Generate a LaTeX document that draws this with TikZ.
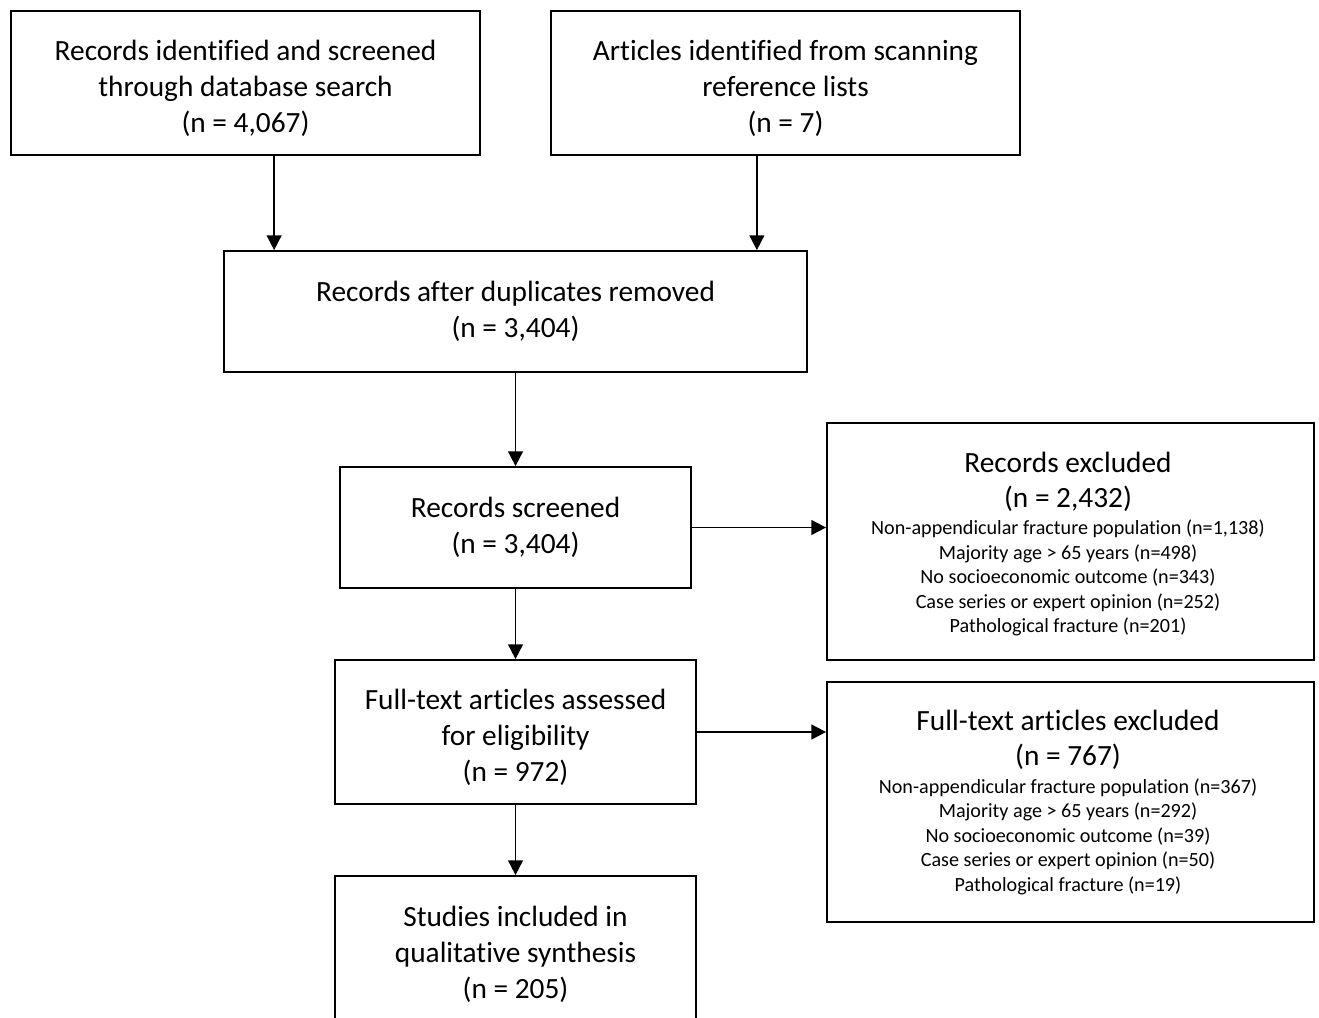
\documentclass[tikz,border=0pt]{standalone}
\usepackage{fontspec}
\setmainfont[Ligatures=NoCommon]{Carlito}
\usetikzlibrary{arrows.meta}
\newcommand{\dropline}{\rule{0pt}{24pt}}
\begin{document}
\begin{tikzpicture}[x=0.75pt,y=-0.75pt,
  box/.style={draw, line width=1.3pt, align=center, font=\fontsize{22}{27}\selectfont},
  bigtxt/.style={align=center, font=\fontsize{22}{26.25}\selectfont},
  smalltxt/.style={align=center, font=\fontsize{15.1}{18.4}\selectfont},
  arr/.style={line width=1.3pt, -{Triangle[length=11pt,width=11pt]}}]
\fill[white] (0,0) rectangle (1319,1017);
\path[use as bounding box, clip] (0,0) rectangle (1319,1017);
\node[box, minimum width=351.75pt, minimum height=108pt] (ident) at (245.5,83) {\dropline Records identified and screened\\through database search\\(n = 4,067)};
\node[box, minimum width=351.75pt, minimum height=108pt] (refs) at (785.5,83) {\dropline Articles identified from scanning\\reference lists\\(n = 7)};
\node[box, minimum width=437.25pt, minimum height=90.75pt] (dedup) at (515.5,311.5) {Records after duplicates removed\\(n = 3,404)};
\node[box, minimum width=263.25pt, minimum height=90.75pt] (screen) at (515.5,527.5) {Records screened\\(n = 3,404)};
\node[box, minimum width=270.75pt, minimum height=108pt] (full) at (515.5,732) {\dropline Full-text articles assessed\\for eligibility\\(n = 972)};
\node[box, minimum width=270.75pt, minimum height=117pt] (incl) at (515.5,954) {Studies included in\\qualitative synthesis\\(n = 205)};
% exclusion boxes
\node[draw, line width=1.3pt, minimum width=365.25pt, minimum height=177.75pt] (excl1) at (1070.5,541.5) {};
\node[bigtxt] (excl1head) at (1068,482) {Records excluded\\(n = 2,432)};
\node[smalltxt] (excl1list) at (1068,578) {Non-appendicular fracture population (n=1,138)\\Majority age > 65 years (n=498)\\No socioeconomic outcome (n=343)\\Case series or expert opinion (n=252)\\Pathological fracture (n=201)};
\node[draw, line width=1.3pt, minimum width=365.25pt, minimum height=180pt] (excl2) at (1070.5,802) {};
\node[bigtxt] (excl2head) at (1068,740) {Full-text articles excluded\\(n = 767)};
\node[smalltxt] (excl2list) at (1068,836.5) {Non-appendicular fracture population (n=367)\\Majority age > 65 years (n=292)\\No socioeconomic outcome (n=39)\\Case series or expert opinion (n=50)\\Pathological fracture (n=19)};
\coordinate (inleft) at ([xshift=38.25pt]dedup.north west);
\coordinate (inright) at ([xshift=-38.25pt]dedup.north east);
\draw[arr] (ident.south -| inleft) -- (inleft);
\draw[arr] (refs.south -| inright) -- (inright);
\draw[arr] (dedup) -- (screen);
\draw[arr] (screen) -- (full);
\draw[arr] (full) -- (incl);
\draw[arr] (screen.east) -- (screen.east -| excl1.west);
\draw[arr] (full.east) -- (full.east -| excl2.west);
\end{tikzpicture}
\end{document}
